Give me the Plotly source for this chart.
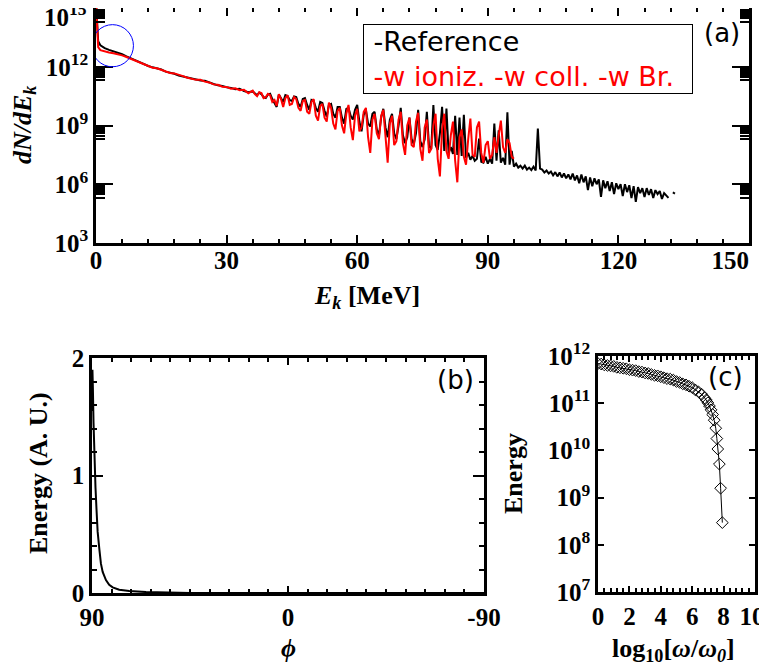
import plotly.graph_objects as go

# ---- panel (a): electron spectra, values read as log10(dN/dEk) ----
ek_black = [0, 0.5] + list(range(1, 36)) + [x / 2 for x in range(72, 267)]
log_dn_black = [
    15.3, 13.3,
    13.1, 12.95, 12.86, 12.79, 12.73, 12.64, 12.53, 12.43, 12.32, 12.24,
    12.15, 12.04, 11.97, 11.90, 11.86, 11.75, 11.70, 11.64, 11.55, 11.50,
    11.46, 11.38, 11.36, 11.30, 11.28, 11.18, 11.12, 11.05, 11.02, 10.95,
    10.92, 10.85, 10.88, 10.76, 10.70,
    # 36.0 .. 133.0 in 0.5 MeV bins
    10.74, 10.62, 10.55, 10.68, 10.60, 10.45, 10.40, 10.58, 10.62, 10.35,
    10.15, 9.95, 10.58, 10.42, 10.20, 10.55, 10.50, 10.30, 10.25, 10.48,
    10.45, 10.10, 9.95, 10.35, 10.40, 10.05, 9.80, 10.30, 10.25, 9.90,
    9.70, 10.20, 10.15, 9.75, 9.45, 10.05, 10.10, 9.60, 9.40, 9.95,
    9.95, 9.40, 9.10, 9.85, 9.90, 9.50, 9.30, 9.80, 10.05, 9.20,
    8.70, 9.55, 9.80, 9.10, 8.95, 9.60, 9.70, 8.80, 8.50, 9.40,
    9.85, 8.90, 8.40, 9.30, 9.60, 8.60, 8.30, 9.00, 9.90, 8.50,
    8.10, 8.40, 9.40, 8.30, 8.05, 8.60, 9.80, 8.20, 7.90, 8.30,
    9.70, 7.95, 7.80, 10.05, 8.00, 7.75, 8.60, 9.95, 7.70, 9.86,
    7.60, 7.90, 7.55, 9.50, 7.50, 9.40, 7.45, 9.55, 7.35, 7.60,
    7.25, 7.45, 7.20, 7.30, 8.33, 7.15, 7.10, 7.40, 7.05, 7.30,
    7.05, 9.10, 7.20, 8.75, 7.10, 7.35, 7.00, 9.68, 7.00, 7.70,
    6.90, 7.05, 6.85, 6.95, 6.80, 6.95, 6.75, 6.85, 6.72, 6.90,
    6.70, 8.85, 6.80, 6.75, 6.60, 6.70, 6.55, 6.65, 6.45, 6.62,
    6.40, 6.60, 6.35, 6.55, 6.30, 6.50, 6.25, 6.55, 6.20, 6.45,
    6.05, 6.50, 6.10, 6.40, 5.70, 6.35, 5.90, 6.30, 6.00, 6.25,
    5.35, 6.20, 5.80, 6.15, 5.65, 6.10, 5.50, 6.05, 5.75, 6.00,
    5.40, 6.00, 5.60, 5.95, 5.30, 5.90, 5.10, 5.85, 5.55, 5.80,
    5.35, 5.80, 5.45, 5.75, 5.30, 5.70, 5.50, 5.65, 5.25, 5.55,
    5.40, 5.30, None, 5.58, 5.52,
]

ek_red = [0, 0.5] + list(range(1, 36)) + [x / 2 for x in range(72, 193)]
log_dn_red = [
    15.3, 13.0,
    12.85, 12.78, 12.73, 12.69, 12.65, 12.58, 12.50, 12.41, 12.31, 12.22,
    12.13, 12.05, 11.95, 11.92, 11.83, 11.77, 11.68, 11.66, 11.57, 11.52,
    11.44, 11.40, 11.33, 11.33, 11.24, 11.20, 11.10, 11.08, 10.98, 10.97,
    10.88, 10.90, 10.80, 10.82, 10.65,
    # 36.0 .. 96.0 in 0.5 MeV bins
    10.78, 10.60, 10.50, 10.70, 10.66, 10.40, 10.45, 10.62, 10.55, 10.20,
    10.30, 10.00, 10.60, 10.35, 9.95, 10.40, 10.55, 10.05, 10.10, 10.45,
    10.35, 9.90, 9.75, 10.25, 10.30, 9.70, 9.60, 10.20, 10.35, 9.50,
    9.25, 10.00, 10.10, 9.40, 9.20, 10.17, 9.90, 9.10, 8.80, 9.75,
    9.90, 9.00, 8.60, 9.60, 10.05, 8.90, 8.25, 9.50, 9.85, 8.70,
    8.90, 9.70, 9.90, 8.40, 7.60, 9.30, 9.60, 8.60, 8.30, 9.50,
    9.80, 8.20, 7.10, 9.10, 9.50, 8.00, 8.20, 9.30, 9.70, 8.10,
    7.50, 9.00, 9.40, 8.00, 7.90, 9.20, 9.65, 7.80, 7.20, 8.90,
    9.30, 7.60, 7.80, 9.00, 9.60, 7.30, 6.40, 8.80, 9.60, 7.70,
    7.30, 8.50, 9.20, 7.20, 6.10, 8.40, 8.80, 7.40, 7.00, 8.30,
    9.35, 7.50, 7.40, 8.90, 9.20, 7.60, 7.10, 8.00, 8.20, 7.30,
    7.50, 8.40, 7.60, 8.50, 9.25, 7.90, 7.60, 8.30, 8.10, 7.40,
    7.30,
]

dn_black = [None if v is None else 10 ** v for v in log_dn_black]
dn_red = [10 ** v for v in log_dn_red]

a_xticks = [0, 30, 60, 90, 120, 150]
a_ytick_exp = [3, 6, 9, 12, 15]

# ---- panel (b): angular energy distribution ----
phi = [90, 89.8, 89.6, 89.3, 88.9, 88.4, 87.9, 87.4, 86.6, 85.9, 85.1,
       84.3, 83.6, 82.1, 80.5, 77.5, 72.9, 65.2, 56.0, 45, 30, 0, -45, -90]
energy_phi = [1.55, 1.9, 1.75, 1.45, 1.15, 0.9, 0.7, 0.52, 0.37, 0.25, 0.18,
              0.14, 0.11, 0.07, 0.048, 0.028, 0.017, 0.008, 0.003, 0.001,
              0.0, 0.0, 0.0, 0.0]
phi_ticks = [90, 0, -90]

# ---- panel (c): frequency spectrum ----
log_omega = [0.0, 0.2, 0.4, 0.6, 0.8, 1.0, 1.2, 1.4, 1.6, 1.8, 2.0, 2.2, 2.4,
             2.6, 2.8, 3.0, 3.2, 3.4, 3.6, 3.8, 4.0, 4.2, 4.4, 4.6, 4.8, 5.0,
             5.2, 5.4, 5.6, 5.8, 6.0, 6.2, 6.4, 6.6, 6.8, 6.9, 7.0, 7.1, 7.2,
             7.3, 7.4, 7.5, 7.57, 7.63, 7.73, 7.81, 7.92]
energy_omega = [6.92e11, 6.76e11, 6.46e11, 6.31e11, 6.17e11, 6.03e11, 5.75e11,
                5.62e11, 5.50e11, 5.37e11, 5.13e11, 5.01e11, 4.90e11, 4.68e11,
                4.57e11, 4.37e11, 4.27e11, 4.07e11, 3.89e11, 3.80e11, 3.63e11,
                3.47e11, 3.31e11, 3.24e11, 3.09e11, 2.88e11, 2.75e11, 2.57e11,
                2.45e11, 2.29e11, 2.14e11, 1.91e11, 1.74e11, 1.55e11, 1.29e11,
                1.17e11, 1.02e11, 8.71e10, 7.24e10, 5.75e10, 4.37e10, 2.95e10,
                1.78e10, 1.07e10, 5.13e9, 1.58e9, 2.95e8]
c_xticks = [0, 2, 4, 6, 8, 10]
c_ytick_exp = [7, 8, 9, 10, 11, 12]

# the page puts the plot 8px in from the top-left corner
PAGE_PAD = 8
W, H = 767 - PAGE_PAD, 667 - PAGE_PAD
NBSP = "\u00a0"
tick_font = dict(family="Liberation Serif", size=25, color="black", weight="bold")
label_font = dict(family="Liberation Serif", size=26, color="black")
sans_font = dict(family="DejaVu Sans", size=26, color="black")


def px_x(v):
    return min(1.0, max(0.0, (v - PAGE_PAD) / W))


def px_y(v):
    return min(1.0, max(0.0, 1 - (v - PAGE_PAD) / H))


def frame(domain, ticklen, minor):
    return dict(
        domain=domain,
        automargin=False,
        showline=True,
        linewidth=2.5,
        linecolor="black",
        mirror="allticks",
        ticks="inside",
        ticklen=ticklen,
        tickwidth=2,
        tickcolor="black",
        tickfont=tick_font,
        ticklabeloverflow="allow",
        showgrid=False,
        zeroline=False,
        minor=minor,
    )


fig = go.Figure()

fig.add_trace(go.Scatter(x=ek_black, y=dn_black, mode="lines",
                         line=dict(color="black", width=2), xaxis="x", yaxis="y"))
fig.add_trace(go.Scatter(x=ek_red, y=dn_red, mode="lines",
                         line=dict(color="red", width=2), xaxis="x", yaxis="y"))
fig.add_trace(go.Scatter(x=phi, y=energy_phi, mode="lines",
                         line=dict(color="black", width=2), xaxis="x2", yaxis="y2"))
fig.add_trace(go.Scatter(x=log_omega, y=energy_omega, mode="lines+markers",
                         line=dict(color="black", width=1),
                         marker=dict(symbol="diamond-open", size=9,
                                     color="black", line=dict(width=1)),
                         xaxis="x3", yaxis="y3"))

minor_a_y = [k * 10 ** (n - 1) for n in a_ytick_exp for k in range(2, 10)]
# last x label sits inside the frame, the top y label is drawn separately below
a_xtext = [str(v) for v in a_xticks[:-1]] + [str(a_xticks[-1]) + NBSP * 6]
a_ytext = ["10<sup>%d</sup>" % n for n in a_ytick_exp[:-1]] + [""]
c_xtext = [str(v) for v in c_xticks[:-1]] + [str(c_xticks[-1]) + NBSP]

fig.update_layout(
    width=W,
    height=H,
    margin=dict(l=0, r=0, t=0, b=0),
    paper_bgcolor="white",
    plot_bgcolor="white",
    showlegend=False,
    xaxis=dict(frame([px_x(96), px_x(749)], 8,
                     dict(dtick=6, ticklen=4, tickwidth=2, tickcolor="black", ticks="inside")),
               range=[0, 150], tickvals=a_xticks, ticktext=a_xtext,
               ticklabelstandoff=-7, anchor="y"),
    yaxis=dict(frame([px_y(243), px_y(7)], 17,
                     dict(tickmode="array", tickvals=minor_a_y, ticklen=9,
                          tickwidth=2, tickcolor="black", ticks="inside")),
               type="log", range=[3, 15], anchor="x",
               tickvals=[10 ** n for n in a_ytick_exp], ticktext=a_ytext),
    xaxis2=dict(frame([px_x(92), px_x(484)], 7,
                      dict(dtick=9, ticklen=4, tickwidth=1.5, tickcolor="black", ticks="inside")),
                range=[90, -90], tickvals=phi_ticks,
                ticktext=[str(v) for v in phi_ticks], anchor="y2"),
    yaxis2=dict(frame([px_y(593), px_y(358)], 11,
                      dict(dtick=0.2, ticklen=5, tickwidth=2, tickcolor="black", ticks="inside")),
                range=[0, 2], dtick=1, anchor="x2"),
    xaxis3=dict(frame([px_x(598), px_x(755)], 6,
                      dict(dtick=0.4, ticklen=4, tickwidth=1.5, tickcolor="black", ticks="inside")),
                range=[0, 10], tickvals=c_xticks, ticktext=c_xtext, anchor="y3"),
    yaxis3=dict(frame([px_y(592), px_y(356)], 6, dict(ticks="")),
                type="log", range=[7, 12], anchor="x3",
                tickvals=[10 ** n for n in c_ytick_exp],
                ticktext=["10<sup>%d</sup>" % n for n in c_ytick_exp]),
)

# blue circle marking the low-energy bump
fig.add_shape(type="circle", xref="x", yref="y", x0=-1.0, x1=8.6,
              y0=10 ** 12.0, y1=10 ** 14.15, line=dict(color="blue", width=1))

notes = [
    ("<b><i>dN/dE<sub>k</sub></i></b>", 24, 125, -90, label_font),
    ("<b><i>E<sub>k</sub></i> [MeV]</b>", 367, 297, 0, label_font),
    ("<b>Energy (A. U.)</b>", 38, 473, -90, label_font),
    ("<b><i>ϕ</i></b>", 288, 648, 0, label_font),
    ("<b>Energy</b>", 513, 474, -90, label_font),
    ("<b>log<sub>10</sub>[<i>ω</i>/<i>ω<sub>0</sub></i>]</b>", 673, 650, 0, label_font),
    ("(a)", 722, 33, 0, sans_font),
    ("(b)", 455, 380, 0, sans_font),
    ("(c)", 725, 377, 0, sans_font),
]
for text, x, y, angle, font in notes:
    fig.add_annotation(text=text, x=px_x(x), y=px_y(y), xref="paper", yref="paper",
                       showarrow=False, textangle=angle, font=font,
                       xanchor="center", yanchor="middle")

# top y label of panel (a), kept inside the page like the original
fig.add_annotation(text="10<sup>%d</sup>" % a_ytick_exp[-1], x=px_x(89), y=px_y(15),
                   xref="paper", yref="paper", showarrow=False, font=tick_font,
                   xanchor="right", yanchor="middle")

fig.add_annotation(
    text=NBSP + "-Reference<br><span style='color:red'>" + NBSP
    + "-w ioniz. -w coll. -w Br." + NBSP * 2 + "</span>",
    x=px_x(363), y=px_y(24), xref="paper", yref="paper",
    xanchor="left", yanchor="top", align="left", showarrow=False,
    font=dict(family="DejaVu Sans", size=27, color="black"),
    bordercolor="black", borderwidth=1, borderpad=1, bgcolor="white",
)

fig.write_html("out.html")
